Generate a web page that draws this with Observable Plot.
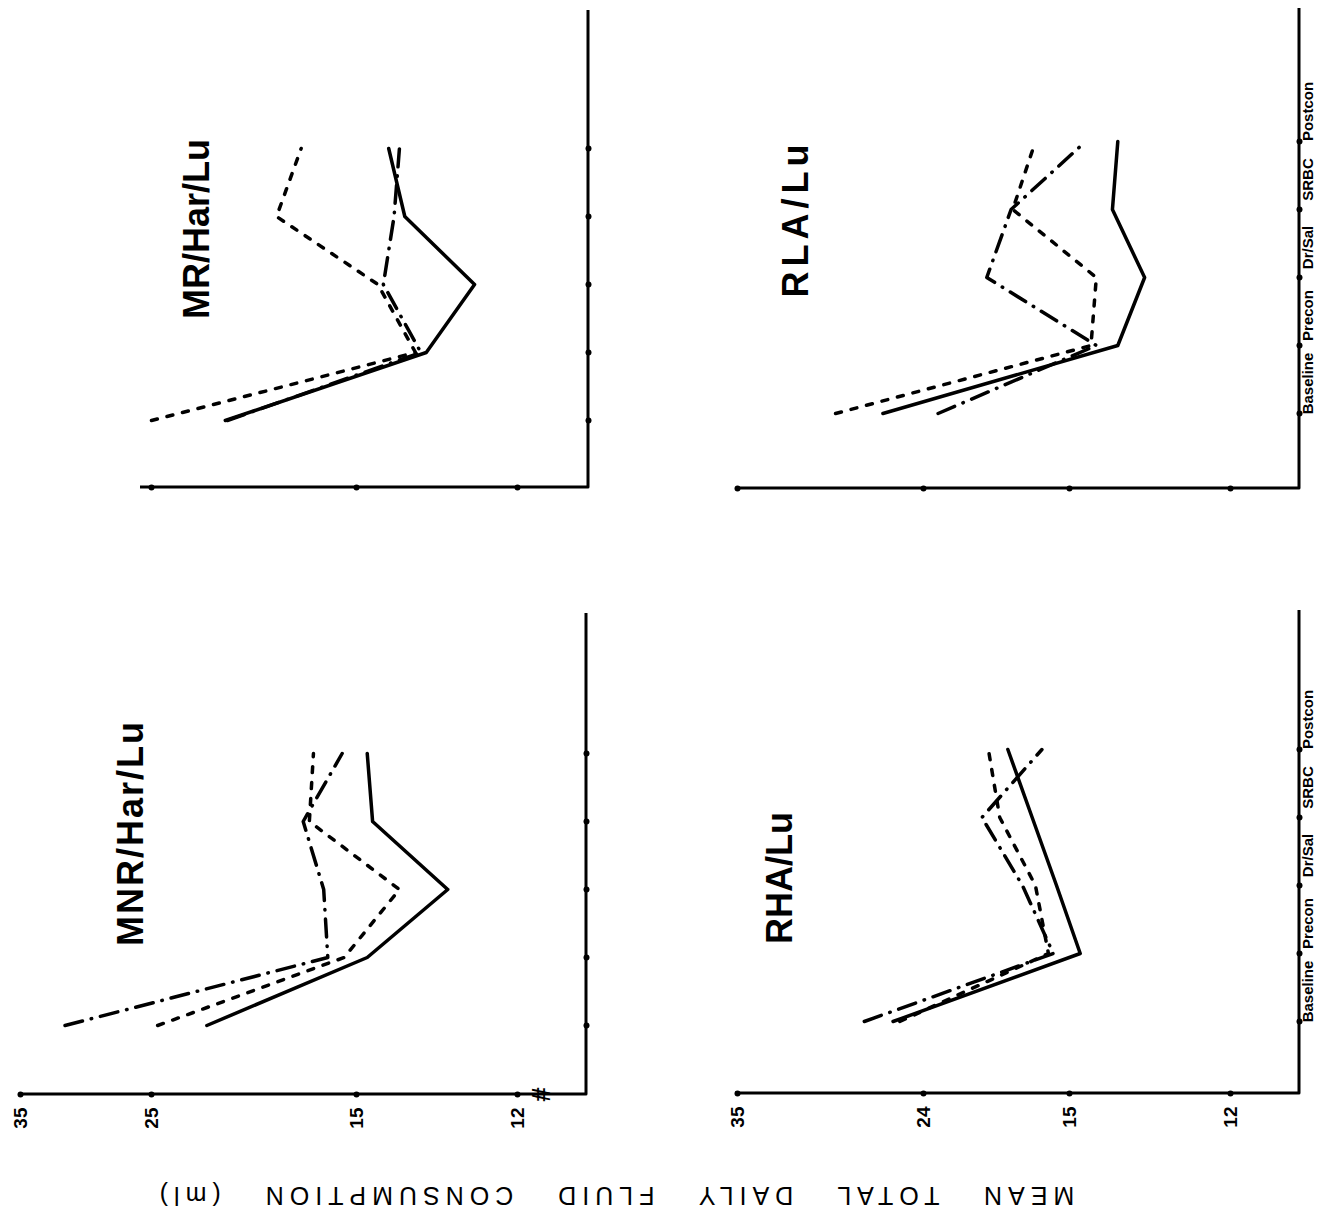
<!DOCTYPE html>
<html>
<head>
<meta charset="utf-8">
<script src="https://cdn.jsdelivr.net/npm/d3@7"></script>
<script src="https://cdn.jsdelivr.net/npm/@observablehq/plot@0.6"></script>
<style>
  html, body { margin: 0; padding: 0; background: #fff; }
  #page { position: relative; width: 1332px; height: 1226px; overflow: hidden; background: #fff;
          font-family: "Liberation Sans", Arial, sans-serif; }
  #page svg { position: absolute; }
  #ylabel { position: absolute; left: 614px; top: 1195px; transform: translate(-50%, -50%) rotate(180deg);
            white-space: nowrap; font-size: 25px; letter-spacing: 6px; word-spacing: 26px; color: #000; }
</style>
</head>
<body>
<div id="page"><div id="ylabel">MEAN TOTAL DAILY FLUID CONSUMPTION (ml)</div></div>
<script>
// ---------------- data ----------------
const phases = ["Baseline", "Precon", "Dr/Sal", "SRBC", "Postcon"];

// value-axis tick labels (hand-drawn, unevenly spaced)
const leftTicks = [35, 25, 15, 12];
const rightTicks = [35, 24, 15, 12];
const axisBreak = 11.4; // the "#" break symbol on the MNR axis

// MNR/Har/Lu
const mnrSolid   = [22.3, 14.8, 13.3, 14.7, 14.8];
const mnrDashed  = [24.7, 15.6, 14.2, 17.3, 17.1];
const mnrDashDot = [31.6, 16.4, 16.6, 17.6, 15.7];
// MR/Har/Lu
const mrSolid    = [21.4, 13.7, 12.8, 14.1, 14.4];
const mrDashed   = [25.0, 13.9, 14.6, 18.9, 17.7];
const mrDashDot  = [21.3, 13.8, 14.5, 14.3, 14.2];
// RHA/Lu
const rhaSolid   = [25.8, 14.8, 15.8, 17.3, 18.8];
const rhaDashed  = [25.4, 16.3, 17.1, 19.3, 20.0];
const rhaDashDot = [27.5, 16.0, 17.9, 20.4, 16.7];
// RLA/Lu
const rlaSolid   = [26.4, 14.1, 13.6, 14.2, 14.1];
const rlaDashed  = [29.2, 14.6, 14.5, 18.5, 17.1];
const rlaDashDot = [23.1, 14.5, 20.1, 18.6, 14.7];

// ---------------- layout (page pixels) ----------------
const leftTickPx  = [20, 151, 356, 517];
const rightTickPx = [737, 923, 1069, 1230];

const panels = [
  { title: "MR/Har/Lu", series: [mrSolid, mrDashed, mrDashDot],
    box: [0, 0, 666, 600], frame: [140, 588, 10, 487],
    domain: leftTicks, range: leftTickPx, yRange: [420, 147],
    tickDots: leftTicks.slice(1), xLabels: false, yLabels: false, brk: false,
    titleOff: [57, -20], titleSpacing: 0 },
  { title: "RLA/Lu", series: [rlaSolid, rlaDashed, rlaDashDot],
    box: [666, 0, 666, 600], frame: [738, 1299, 8, 488],
    domain: rightTicks, range: rightTickPx, yRange: [413, 140],
    tickDots: rightTicks, xLabels: false, yLabels: true, brk: false,
    titleOff: [58, -30], titleSpacing: 5 },
  { title: "MNR/Har/Lu", series: [mnrSolid, mnrDashed, mnrDashDot],
    box: [0, 600, 666, 560], frame: [20, 586, 613, 1094],
    domain: leftTicks, range: leftTickPx, yRange: [1025, 752],
    tickDots: leftTicks, xLabels: true, yLabels: false, brk: true,
    titleOff: [111, -21], titleSpacing: 2 },
  { title: "RHA/Lu", series: [rhaSolid, rhaDashed, rhaDashDot],
    box: [666, 600, 666, 560], frame: [735, 1299, 610, 1093],
    domain: rightTicks, range: rightTickPx, yRange: [1022, 747],
    tickDots: rightTicks, xLabels: true, yLabels: true, brk: false,
    titleOff: [45, 26], titleSpacing: 0 }
];

const styles = [
  { strokeWidth: 3.5 },                                   // solid
  { strokeWidth: 3.5, strokeDasharray: "6,10" },          // short dashes
  { strokeWidth: 3.5, strokeDasharray: "18,9,0.5,9" }     // dash-dot
];

// axis lines along the bottom and right edges of the frame
function axisLines(index, scales, values, dims) {
  const {width, height, marginLeft, marginRight, marginTop, marginBottom} = dims;
  const p = document.createElementNS("http://www.w3.org/2000/svg", "path");
  p.setAttribute("d", `M${marginLeft},${height - marginBottom}H${width - marginRight}V${marginTop}`);
  p.setAttribute("fill", "none");
  p.setAttribute("stroke", "black");
  p.setAttribute("stroke-width", 3);
  p.setAttribute("stroke-linejoin", "round");
  return p;
}

const page = document.getElementById("page");

for (const p of panels) {
  const [bx, by, bw, bh] = p.box;
  const [fl, fr, ft, fb] = p.frame;
  const rows = arr => phases.map((phase, i) => ({phase, value: arr[i]}));
  const marks = [
    axisLines,
    Plot.dot(p.tickDots, {x: d => d, frameAnchor: "bottom", r: 3, fill: "black"}),
    Plot.dot(phases, {y: d => d, frameAnchor: "right", r: 3, fill: "black"}),
    p.xLabels ? Plot.axisX(p.domain, {anchor: "bottom", tickSize: 0, tickPadding: 13, tickRotate: -90,
                                      fontSize: 19, fontWeight: "bold", label: null}) : null,
    p.yLabels ? Plot.axisY(phases, {anchor: "right", tickSize: 0, tickPadding: 13, tickRotate: -90, dy: -30,
                                    fontSize: 15, fontWeight: "bold", label: null}) : null,
    p.brk ? Plot.text([axisBreak], {x: d => d, text: () => "#", frameAnchor: "bottom", rotate: -90,
                                     fontSize: 26, fontWeight: "bold"}) : null,
    ...p.series.map((s, k) => Plot.line(rows(s), {x: "value", y: "phase", stroke: "black",
                                                   strokeLinecap: "round", strokeLinejoin: "round", ...styles[k]})),
    Plot.text([p.title], {frameAnchor: "left", dx: p.titleOff[0], dy: p.titleOff[1], rotate: -90,
                          fontSize: 36, fontWeight: "bold", textAnchor: "middle"})
  ].filter(Boolean);

  const svg = Plot.plot({
    width: bw, height: bh,
    marginLeft: fl - bx, marginRight: bx + bw - fr, marginTop: ft - by, marginBottom: by + bh - fb,
    style: {background: "transparent", fontFamily: "'Liberation Sans', Arial, sans-serif", overflow: "visible"},
    x: {type: "linear", domain: p.domain, range: p.range.map(v => v - bx), axis: null},
    y: {type: "point", domain: phases, range: p.yRange.map(v => v - by), padding: 0, axis: null},
    marks
  });
  if (p.titleSpacing) {
    for (const t of svg.querySelectorAll("text")) {
      if (t.textContent === p.title) t.style.letterSpacing = p.titleSpacing + "px";
    }
  }
  svg.style.left = bx + "px";
  svg.style.top = by + "px";
  page.appendChild(svg);
}
</script>
</body>
</html>
